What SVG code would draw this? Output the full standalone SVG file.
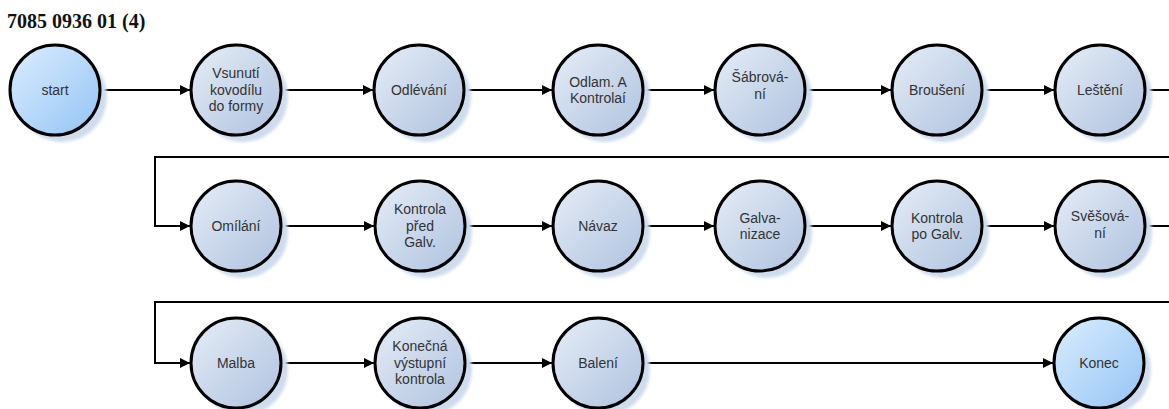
<svg xmlns="http://www.w3.org/2000/svg" width="1169" height="409" viewBox="0 0 1169 409">
  <style>
    .title { font-family: "Liberation Serif", "Times New Roman", serif; font-weight: bold; font-size: 20px; fill: #111; }
    .lbl { font-family: "Liberation Sans", Arial, sans-serif; font-size: 14px; fill: #333; text-anchor: middle; }
    .node { stroke: #000; stroke-width: 3; }
    .step { fill: url(#gStep); }
    .term { fill: url(#gTerm); }
    .shadow { fill: #cfdcee; filter: url(#soft); }
    .edge { fill: none; stroke: #000; stroke-width: 2; marker-end: url(#arrow); }
  </style>
  <defs>
    <linearGradient id="gStep" x1="0" y1="0" x2="1" y2="1">
      <stop offset="0" stop-color="#e6edf7"/>
      <stop offset="1" stop-color="#aec2df"/>
    </linearGradient>
    <linearGradient id="gTerm" x1="0" y1="0" x2="1" y2="1">
      <stop offset="0" stop-color="#dcedff"/>
      <stop offset="1" stop-color="#93c4f5"/>
    </linearGradient>
    <filter id="soft" x="-20%" y="-20%" width="140%" height="140%">
      <feGaussianBlur stdDeviation="1.5"/>
    </filter>
    <marker id="arrow" viewBox="0 0 10 10" refX="10" refY="5" markerWidth="6" markerHeight="5" orient="auto" markerUnits="strokeWidth">
      <path d="M0,0 L10,5 L0,10 Z" fill="#000"/>
    </marker>
  </defs>

  <text class="title" x="7" y="28">7085 0936 01 (4)</text>

  <!-- connectors -->
  <g id="connectors">
    <path class="edge" d="M100,90 H190"/>
    <path class="edge" d="M282,90 H373"/>
    <path class="edge" d="M465,90 H552"/>
    <path class="edge" d="M644,90 H714"/>
    <path class="edge" d="M806,90 H891"/>
    <path class="edge" d="M983,90 H1054"/>
    <path class="edge" d="M1146,90 H1185 V157 H155 V226 H190"/>
    <path class="edge" d="M282,226 H374"/>
    <path class="edge" d="M466,226 H552"/>
    <path class="edge" d="M644,226 H714"/>
    <path class="edge" d="M806,226 H891"/>
    <path class="edge" d="M983,226 H1054"/>
    <path class="edge" d="M1146,226 H1185 V302 H155 V363 H190"/>
    <path class="edge" d="M282,363 H374"/>
    <path class="edge" d="M466,363 H552"/>
    <path class="edge" d="M644,363 H1053"/>
  </g>

  <!-- row 1 -->
  <g id="n-start">
    <circle class="shadow" cx="62" cy="97" r="45"/>
    <circle class="node term" cx="55" cy="90" r="45"/>
    <text class="lbl" x="55" y="95">start</text>
  </g>
  <g id="n-vsunuti">
    <circle class="shadow" cx="243" cy="97" r="45"/>
    <circle class="node step" cx="236" cy="90" r="45"/>
    <text class="lbl" x="236" y="78">Vsunutí</text>
    <text class="lbl" x="236" y="95">kovodílu</text>
    <text class="lbl" x="236" y="111">do formy</text>
  </g>
  <g id="n-odlevani">
    <circle class="shadow" cx="426" cy="97" r="45"/>
    <circle class="node step" cx="419" cy="90" r="45"/>
    <text class="lbl" x="419" y="95">Odlévání</text>
  </g>
  <g id="n-odlam">
    <circle class="shadow" cx="605" cy="97" r="45"/>
    <circle class="node step" cx="598" cy="90" r="45"/>
    <text class="lbl" x="598" y="87">Odlam. A</text>
    <text class="lbl" x="598" y="103">Kontrolaí</text>
  </g>
  <g id="n-sabrovani">
    <circle class="shadow" cx="767" cy="97" r="45"/>
    <circle class="node step" cx="760" cy="90" r="45"/>
    <text class="lbl" x="760" y="82">Šábrová-</text>
    <text class="lbl" x="760" y="99">ní</text>
  </g>
  <g id="n-brouseni">
    <circle class="shadow" cx="944" cy="97" r="45"/>
    <circle class="node step" cx="937" cy="90" r="45"/>
    <text class="lbl" x="937" y="95">Broušení</text>
  </g>
  <g id="n-lesteni">
    <circle class="shadow" cx="1107" cy="97" r="45"/>
    <circle class="node step" cx="1100" cy="90" r="45"/>
    <text class="lbl" x="1100" y="95">Leštění</text>
  </g>

  <!-- row 2 -->
  <g id="n-omilani">
    <circle class="shadow" cx="243" cy="233" r="45"/>
    <circle class="node step" cx="236" cy="226" r="45"/>
    <text class="lbl" x="236" y="231">Omílání</text>
  </g>
  <g id="n-kontrola-pred">
    <circle class="shadow" cx="427" cy="233" r="45"/>
    <circle class="node step" cx="420" cy="226" r="45"/>
    <text class="lbl" x="420" y="214">Kontrola</text>
    <text class="lbl" x="420" y="231">před</text>
    <text class="lbl" x="420" y="247">Galv.</text>
  </g>
  <g id="n-navaz">
    <circle class="shadow" cx="605" cy="233" r="45"/>
    <circle class="node step" cx="598" cy="226" r="45"/>
    <text class="lbl" x="598" y="231">Návaz</text>
  </g>
  <g id="n-galvanizace">
    <circle class="shadow" cx="767" cy="233" r="45"/>
    <circle class="node step" cx="760" cy="226" r="45"/>
    <text class="lbl" x="760" y="223">Galva-</text>
    <text class="lbl" x="760" y="239">nizace</text>
  </g>
  <g id="n-kontrola-po">
    <circle class="shadow" cx="944" cy="233" r="45"/>
    <circle class="node step" cx="937" cy="226" r="45"/>
    <text class="lbl" x="937" y="223">Kontrola</text>
    <text class="lbl" x="937" y="239">po Galv.</text>
  </g>
  <g id="n-svesovani">
    <circle class="shadow" cx="1107" cy="233" r="45"/>
    <circle class="node step" cx="1100" cy="226" r="45"/>
    <text class="lbl" x="1100" y="221">Svěšová-</text>
    <text class="lbl" x="1100" y="238">ní</text>
  </g>

  <!-- row 3 -->
  <g id="n-malba">
    <circle class="shadow" cx="243" cy="370" r="45"/>
    <circle class="node step" cx="236" cy="363" r="45"/>
    <text class="lbl" x="236" y="368">Malba</text>
  </g>
  <g id="n-konecna">
    <circle class="shadow" cx="427" cy="370" r="45"/>
    <circle class="node step" cx="420" cy="363" r="45"/>
    <text class="lbl" x="420" y="351">Konečná</text>
    <text class="lbl" x="420" y="368">výstupní</text>
    <text class="lbl" x="420" y="384">kontrola</text>
  </g>
  <g id="n-baleni">
    <circle class="shadow" cx="605" cy="370" r="45"/>
    <circle class="node step" cx="598" cy="363" r="45"/>
    <text class="lbl" x="598" y="368">Balení</text>
  </g>
  <g id="n-konec">
    <circle class="shadow" cx="1106" cy="370" r="45"/>
    <circle class="node term" cx="1099" cy="363" r="45"/>
    <text class="lbl" x="1099" y="368">Konec</text>
  </g>
</svg>
